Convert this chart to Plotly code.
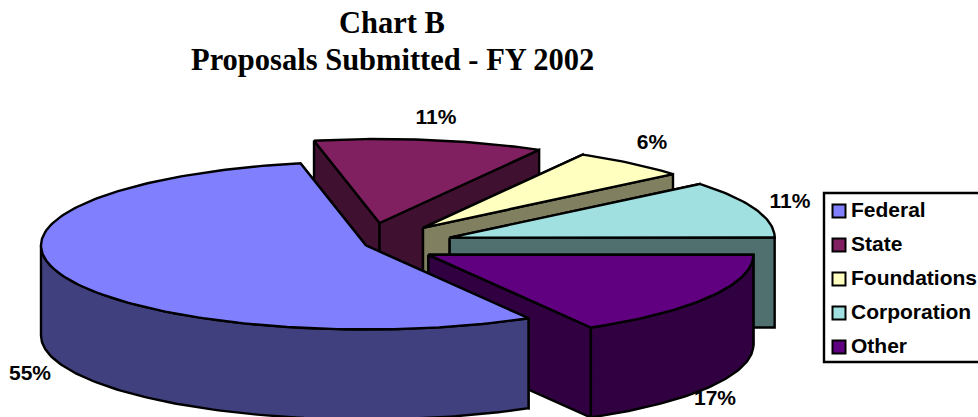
import math
import plotly.graph_objects as go

categories = ["Federal", "State", "Foundations", "Corporation", "Other"]
shares = [55.1, 11.4, 5.8, 11.0, 16.7]
pct_labels = ["55%", "11%", "6%", "11%", "17%"]
title_lines = ["Chart B", "Proposals Submitted - FY 2002"]

top_colors = ["#8080FF", "#802060", "#FFFFC0", "#A0E0E0", "#600080"]
side_colors = ["#40407F", "#401030", "#808060", "#507070", "#300040"]

W, H = 978, 417
CX, CY = 366, 245.5
RX, RY = 325, 84
DEPTH = 90
START = 150
explode = [0, 88, 89, 89, 72]
draw_order = [1, 2, 3, 4, 0]
label_pos = [(30, 375), (436, 119), (652, 144), (790, 203), (715, 400)]


def pt(angle, cx, cy, r=1.0):
    t = math.radians(angle)
    return cx + RX * r * math.sin(t), cy - RY * r * math.cos(t)


def arc(a0, a1, cx, cy):
    n = max(2, int(abs(a1 - a0)) + 1)
    return [pt(a0 + (a1 - a0) * i / (n - 1), cx, cy) for i in range(n)]


fig = go.Figure()


def poly(points, color):
    xs = [p[0] for p in points] + [points[0][0]]
    ys = [p[1] for p in points] + [points[0][1]]
    fig.add_trace(go.Scatter(x=xs, y=ys, mode="lines", fill="toself", fillcolor=color,
                             line=dict(color="black", width=2.4), hoverinfo="skip",
                             showlegend=False))


angles = []
a = START
total = sum(shares)
for v in shares:
    angles.append((a, a + v / total * 360))
    a += v / total * 360

for i in draw_order:
    a0, a1 = angles[i]
    mid = math.radians((a0 + a1) / 2)
    cx = CX + explode[i] * math.sin(mid)
    cy = CY - explode[i] * RY / RX * math.cos(mid)
    # radial cut faces
    for ang in (a0, a1):
        p = pt(ang, cx, cy)
        poly([(cx, cy), p, (p[0], p[1] + DEPTH), (cx, cy + DEPTH)], side_colors[i])
    # outer rim: only the part facing the viewer (90..270 degrees)
    for shift in (0, 360):
        lo = max(a0, 90 + shift)
        hi = min(a1, 270 + shift)
        if hi > lo:
            top = arc(lo, hi, cx, cy)
            poly(top + [(x, y + DEPTH) for x, y in reversed(top)], side_colors[i])
    # top face
    poly([(cx, cy)] + arc(a0, a1, cx, cy), top_colors[i])

# data labels
fig.add_trace(go.Scatter(x=[p[0] for p in label_pos], y=[p[1] for p in label_pos],
                         mode="text", text=pct_labels, textposition="middle center",
                         textfont=dict(family="Liberation Sans", size=21, color="black"),
                         texttemplate="<b>%{text}</b>", hoverinfo="skip", showlegend=False))

# legend
leg_y = [211 + 34 * k for k in range(len(categories))]
fig.add_shape(type="rect", x0=824, x1=985, y0=193, y1=362,
              line=dict(color="black", width=2.4), fillcolor="white", layer="between")
fig.add_trace(go.Scatter(x=[839] * len(categories), y=leg_y, mode="markers",
                         marker=dict(symbol="square", size=13, color=top_colors,
                                     line=dict(color="black", width=2)),
                         hoverinfo="skip", showlegend=False))
fig.add_trace(go.Scatter(x=[851] * len(categories), y=[v + 1 for v in leg_y], mode="text",
                         text=categories, textposition="middle right",
                         texttemplate="<b>%{text}</b>",
                         textfont=dict(family="Liberation Sans", size=21, color="black"),
                         hoverinfo="skip", showlegend=False))

# title
for line, yy in zip(title_lines, [23, 60]):
    fig.add_annotation(x=392, y=yy, text="<b>" + line + "</b>", showarrow=False,
                       xanchor="center", yanchor="middle",
                       font=dict(family="Liberation Serif", size=30.5, color="black"))

fig.update_layout(
    width=W, height=H, margin=dict(l=0, r=0, t=0, b=0),
    paper_bgcolor="white", plot_bgcolor="white", showlegend=False,
    xaxis=dict(range=[0, W], visible=False, fixedrange=True),
    yaxis=dict(range=[H, 0], visible=False, fixedrange=True),
)
fig.write_html("out.html", config={"displayModeBar": False},
               post_script="document.body.style.margin='0';document.documentElement.style.overflow='hidden';")
